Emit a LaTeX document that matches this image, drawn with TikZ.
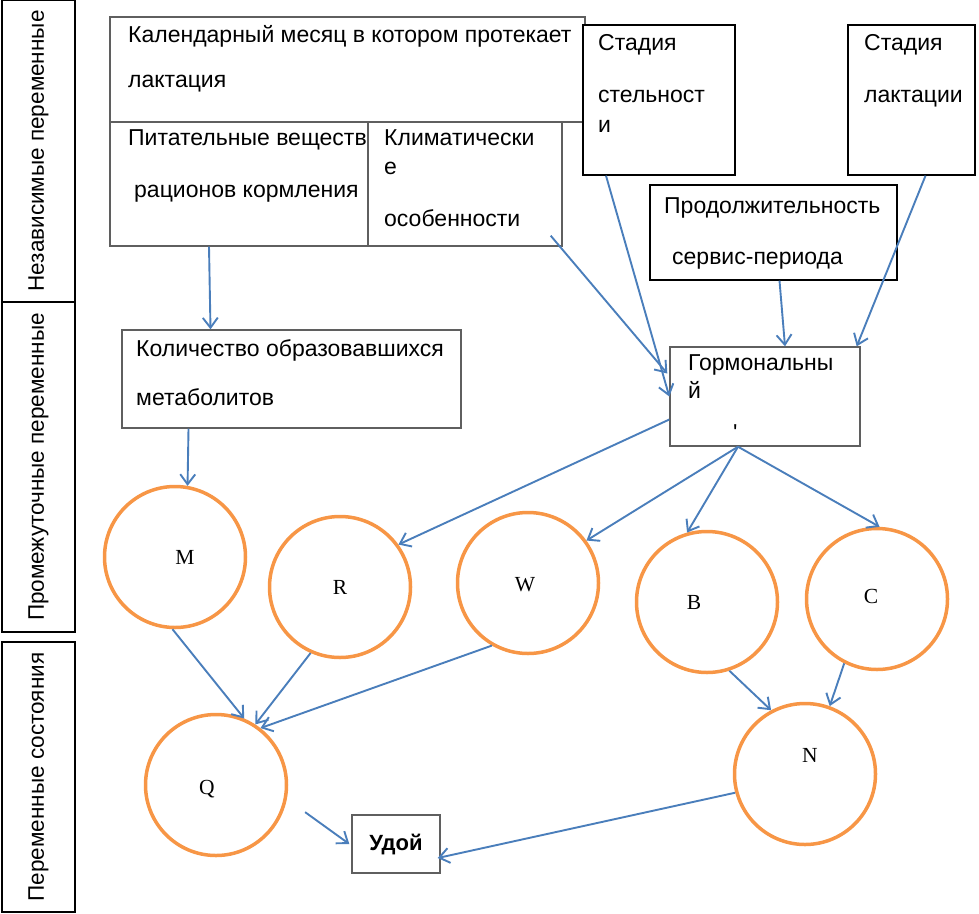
\documentclass[tikz,border=0pt]{standalone}
\usepackage{fontspec}
\setmainfont{Liberation Sans}
\newfontfamily\serifletters{Liberation Serif}
\usetikzlibrary{arrows.meta,positioning}
\definecolor{arrowblue}{RGB}{74,126,187}
\definecolor{ringorange}{RGB}{247,150,70}
\definecolor{boxgray}{RGB}{95,95,95}

\begin{document}
\begin{tikzpicture}[
        x=1pt, y=-1pt,
        box/.style={rectangle, draw=boxgray, line width=1.4pt, fill=white, inner sep=0pt},
        blackbox/.style={box, draw=black},
        sidebox/.style={rectangle, draw=black, line width=1.2pt, rotate=90, minimum height=73pt, inner sep=0pt, font=\fontsize{22.5}{26}\selectfont},
        txt/.style={anchor=mid west, inner sep=0pt, font=\fontsize{23}{27}\selectfont},
        var/.style={circle, draw=ringorange, line width=3.5pt, minimum size=141pt, inner sep=0pt},
        lbl/.style={font=\serifletters\fontsize{21.5}{24}\selectfont},
        link/.style={draw=arrowblue, line width=1.9pt, -{Straight Barb[length=10pt,width=15pt]}}
    ]
    \useasboundingbox (0,0) rectangle (979,913);

    % left column
    \node[sidebox, minimum width=302pt] (indep) at (38.5,151) {Независимые переменные};
    \node[sidebox, minimum width=330pt] (inter) at (38.5,467) {Промежуточные переменные};
    \node[sidebox, minimum width=270pt] (state) at (38.5,777) {Переменные состояния};

    % independent variables
    \node[box, minimum width=475pt, minimum height=105pt] (cal) at (347.5,69.5) {};
    \node[box, minimum width=258pt, minimum height=124pt] (nutr) at (239,184) {};
    \node[box, minimum width=194pt, minimum height=124pt] (clim) at (465,184) {};
    \node[blackbox, minimum width=152pt, minimum height=150pt] (gest) at (659,100) {};
    \node[blackbox, minimum width=127pt, minimum height=150pt] (lact) at (911.5,100) {};
    \node[blackbox, minimum width=247pt, minimum height=95pt] (serv) at (773.5,232.5) {};

    \node[txt] (calA) at (128,40) {Календарный месяц в котором протекает};
    \node[txt] (calB) at (128,85) {лактация};
    \node[txt] (nutrA) at (128,143) {Питательные веществ};
    \node[txt] (nutrB) at (134,195) {рационов кормления};
    \node[txt] (climA) at (384,143) {Климатически};
    \node[txt] (climB) at (384,172) {е};
    \node[txt] (climC) at (384,224) {особенности};
    \node[txt] (gestA) at (598,48) {Стадия};
    \node[txt] (gestB) at (598,100) {стельност};
    \node[txt] (gestC) at (598,130) {и};
    \node[txt] (lactA) at (864,48) {Стадия};
    \node[txt] (lactB) at (864,100) {лактации};
    \node[txt] (servA) at (664,211) {Продолжительность};
    \node[txt] (servB) at (672,262) {сервис-периода};

    % intermediate variables
    \node[box, minimum width=339pt, minimum height=98pt] (met) at (291.5,379) {};
    \node[box, minimum width=190pt, minimum height=99pt] (horm) at (765,396.5) {};
    \node[txt] (metA) at (136,354) {Количество образовавшихся};
    \node[txt] (metB) at (136,403) {метаболитов};
    \node[txt] (hormA) at (688,368) {Гормональны};
    \node[txt] (hormB) at (688,396) {й};
    \node[txt] (hormC) at (733,438) {\textquotesingle};

    \node[var, label={[lbl, xshift=10pt]center:M}] (M) at (175,557) {};
    \node[var, label={[lbl]center:R}] (R) at (340,587) {};
    \node[var, label={[lbl, xshift=-3pt, yshift=-2pt]center:W}] (W) at (528,583) {};
    \node[var, label={[lbl, xshift=-13pt]center:B}] (B) at (707,602) {};
    \node[var, label={[lbl, xshift=-6pt, yshift=3pt]center:C}] (C) at (877,599) {};

    % state variables
    \node[var, label={[lbl, xshift=-9pt, yshift=-4pt]center:Q}] (Q) at (216,785) {};
    \node[var, label={[lbl, xshift=5pt, yshift=19pt]center:N}] (N) at (805,774) {};
    \node[box, minimum width=88pt, minimum height=58pt, font=\bfseries\fontsize{22}{26}\selectfont] (yield) at (396,844) {Удой};

    % connections
    \draw[link] ([xshift=-30pt]nutr.south) -- ([xshift=-81pt]met.north);
    \draw[link] ([xshift=-12pt, yshift=11pt]clim.south east) -- ([xshift=-2pt, yshift=23pt]horm.west);
    \draw[link] ([xshift=-53pt]gest.south) -- (horm.west);
    \draw[link] ([xshift=6pt]serv.south) -- ([xshift=20pt]horm.north);
    \draw[link] ([xshift=14pt]lact.south) -- ([xshift=-4pt]horm.north east);
    \draw[link] ([xshift=-103pt]met.south) -- (M.80);
    \draw[link] ([yshift=-23pt]horm.west) -- (R.36);
    \draw[link] ([xshift=-27pt]horm.south) -- (W.36);
    \draw[link] ([xshift=-27pt]horm.south) -- (B.106);
    \draw[link] ([xshift=-27pt]horm.south) -- (C.88);
    \draw[link] (M.-92) -- (Q.67);
    \draw[link] (R.-114) -- (Q.57);
    \draw[link] (W.-120) -- (Q.52);
    \draw[link] (B.-72) -- (N.118);
    \draw[link] (C.-117) -- (N.70);
    \draw[link] ([xshift=20pt, yshift=-6pt]Q.-17) -- ([xshift=-2pt]yield.west);
    \draw[link] (N.195) -- ([xshift=-3pt, yshift=-14pt]yield.east);
\end{tikzpicture}
\end{document}
